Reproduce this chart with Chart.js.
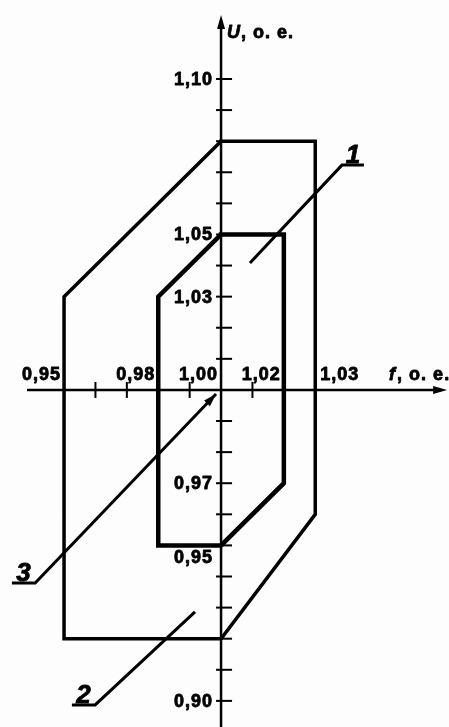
<!DOCTYPE html>
<html lang="ru">
<head>
<meta charset="UTF-8">
<title>Области допустимых отклонений U и f</title>
<script src="https://cdn.jsdelivr.net/npm/chart.js"></script>
<style>
  * { margin: 0; padding: 0; }
  body { background: #fdfdfd; }
  .chartBox { width: 449px; height: 727px; }
</style>
</head>
<body>
<div class="chartBox"><canvas id="myChart"></canvas></div>
<script>
// region 2 (outer) and region 1 (inner) corners, f and U in o.e.
const outerF = [1.00, 1.03, 1.03, 1.00, 0.95, 0.95, 1.00];
const outerU = [1.08, 1.08, 0.96, 0.92, 0.92, 1.03, 1.08];
const innerF = [1.00, 1.02, 1.02, 1.00, 0.98, 0.98, 1.00];
const innerU = [1.05, 1.05, 0.97, 0.95, 0.95, 1.03, 1.05];

// tick marks and tick labels
const fTicks = [0.95, 0.96, 0.97, 0.98, 0.99, 1.01, 1.02, 1.03];
const uTicks = [0.90, 0.91, 0.92, 0.93, 0.94, 0.95, 0.96, 0.97, 0.98, 0.99,
                1.01, 1.02, 1.03, 1.04, 1.05, 1.06, 1.07, 1.08, 1.09, 1.10];
const fLabels = [0.95, 0.98, 1.00, 1.02, 1.03];
const uLabels = [1.10, 1.05, 1.03, 0.97, 0.95, 0.90];

// callouts: number + leader line (underline first, then the slant)
const callouts = ['1', '2', '3'];
const lead1F = [1.0455, 1.0385, 1.0092];
const lead1U = [1.0723, 1.0723, 1.0408];
const lead2F = [0.9525, 0.9599, 0.9917];
const lead2U = [0.8987, 0.8987, 0.9286];
const lead3F = [0.9334, 0.9408, 0.9984];
const lead3U = [0.9379, 0.9379, 0.9987];

const pts = (xs, ys) => xs.map((x, i) => ({ x: x, y: ys[i] }));
const fmt = v => v.toFixed(2).replace('.', ',');
const FONT = "'Liberation Sans', Arial, sans-serif";

function arrow(ctx, x, y, ang, len, half) {
  ctx.save();
  ctx.translate(x, y);
  ctx.rotate(ang);
  ctx.beginPath();
  ctx.moveTo(0, 0);
  ctx.lineTo(-len, -half);
  ctx.lineTo(-len, half);
  ctx.closePath();
  ctx.fill();
  ctx.restore();
}

// heavy text, like the scanned drawing
function heavyText(ctx, s, px, py) {
  ctx.fillText(s, px, py);
  ctx.strokeText(s, px, py);
}

const axesPlugin = {
  id: 'axes',
  beforeDatasetsDraw(chart) {
    const { ctx, scales: { x, y } } = chart;
    const x0 = x.getPixelForValue(1.00);
    const y0 = y.getPixelForValue(1.00);
    ctx.save();
    ctx.strokeStyle = '#000';
    ctx.fillStyle = '#000';
    ctx.lineWidth = 2.5;

    // f axis
    const fl = x.getPixelForValue(0.9382), fr = x.getPixelForValue(1.0720);
    ctx.beginPath(); ctx.moveTo(fl, y0); ctx.lineTo(fr - 6, y0); ctx.stroke();
    arrow(ctx, fr, y0, 0, 14, 4);
    // U axis
    const ub = y.bottom, ut = y.getPixelForValue(1.1206);
    ctx.beginPath(); ctx.moveTo(x0, ub); ctx.lineTo(x0, ut + 6); ctx.stroke();
    arrow(ctx, x0, ut, -Math.PI / 2, 14, 4);

    ctx.lineWidth = 2;
    fTicks.forEach(v => {
      const px = x.getPixelForValue(v);
      ctx.beginPath(); ctx.moveTo(px, y0 - 8); ctx.lineTo(px, y0 + 8); ctx.stroke();
    });
    uTicks.forEach(v => {
      const py = y.getPixelForValue(v);
      ctx.beginPath(); ctx.moveTo(x0 - 5, py); ctx.lineTo(x0 + 11, py); ctx.stroke();
    });

    // tick labels
    ctx.lineWidth = 0.8;
    ctx.lineJoin = 'round';
    ctx.font = 'bold 18px ' + FONT;
    ctx.letterSpacing = '1px';
    ctx.textBaseline = 'alphabetic';
    fLabels.forEach((v, i) => {
      const px = x.getPixelForValue(v);
      const last = i === fLabels.length - 1;
      ctx.textAlign = last ? 'left' : 'right';
      heavyText(ctx, fmt(v), last ? px + 5 : px - 3, y0 - 10);
    });
    ctx.textAlign = 'right';
    ctx.textBaseline = 'middle';
    uLabels.forEach(v => {
      const py = y.getPixelForValue(v) + (v === 0.95 ? 13 : 1);
      heavyText(ctx, fmt(v), x0 - 8, py);
    });

    // axis titles
    ctx.textAlign = 'left';
    ctx.textBaseline = 'middle';
    ctx.font = 'italic bold 18px ' + FONT;
    heavyText(ctx, 'U', x0 + 6, ut + 18);
    heavyText(ctx, 'f', fr - 58, y0 - 15);
    ctx.font = 'bold 18px ' + FONT;
    heavyText(ctx, ', о. е.', x0 + 20, ut + 18);
    heavyText(ctx, ', о. е.', fr - 50, y0 - 15);
    ctx.restore();
  },
  afterDatasetsDraw(chart) {
    const { ctx, scales: { x, y } } = chart;
    const leads = [[lead1F, lead1U], [lead2F, lead2U], [lead3F, lead3U]];
    ctx.save();
    ctx.fillStyle = '#000';
    ctx.strokeStyle = '#000';
    ctx.lineWidth = 0.8;
    ctx.font = 'italic bold 26px ' + FONT;
    ctx.letterSpacing = '0px';
    ctx.textAlign = 'center';
    ctx.textBaseline = 'alphabetic';
    leads.forEach(([fs, us], i) => {
      const a = x.getPixelForValue(fs[0]), b = x.getPixelForValue(fs[1]);
      heavyText(ctx, callouts[i], (a + b) / 2, y.getPixelForValue(us[0]) - 2);
    });
    // arrow of callout 3 points at the origin
    const n = lead3F.length - 1;
    const tx = x.getPixelForValue(lead3F[n]), ty = y.getPixelForValue(lead3U[n]);
    const sx = x.getPixelForValue(lead3F[n - 1]), sy = y.getPixelForValue(lead3U[n - 1]);
    arrow(ctx, tx, ty, Math.atan2(ty - sy, tx - sx), 13, 4);
    ctx.restore();
  }
};

const lineSet = (data, w) => ({
  data: data,
  showLine: true,
  fill: false,
  tension: 0,
  borderColor: '#000',
  borderWidth: w,
  borderJoinStyle: 'miter',
  borderCapStyle: 'square',
  pointRadius: 0
});

const config = {
  type: 'scatter',
  data: {
    datasets: [
      lineSet(pts(outerF, outerU), 3.5),
      lineSet(pts(innerF, innerU), 4.5),
      Object.assign(lineSet(pts(lead1F, lead1U), 3), { borderCapStyle: 'butt' }),
      Object.assign(lineSet(pts(lead2F, lead2U), 3), { borderCapStyle: 'butt' }),
      Object.assign(lineSet(pts(lead3F, lead3U), 3), { borderCapStyle: 'butt' })
    ]
  },
  options: {
    responsive: true,
    maintainAspectRatio: false,
    animation: false,
    layout: { padding: 0 },
    plugins: { legend: { display: false }, tooltip: { enabled: false } },
    scales: {
      x: { type: 'linear', min: 0.9296, max: 1.0726, display: false },
      y: { type: 'linear', min: 0.8916, max: 1.1254, display: false }
    }
  },
  plugins: [axesPlugin]
};

const myChart = new Chart(document.getElementById('myChart'), config);
</script>
</body>
</html>
